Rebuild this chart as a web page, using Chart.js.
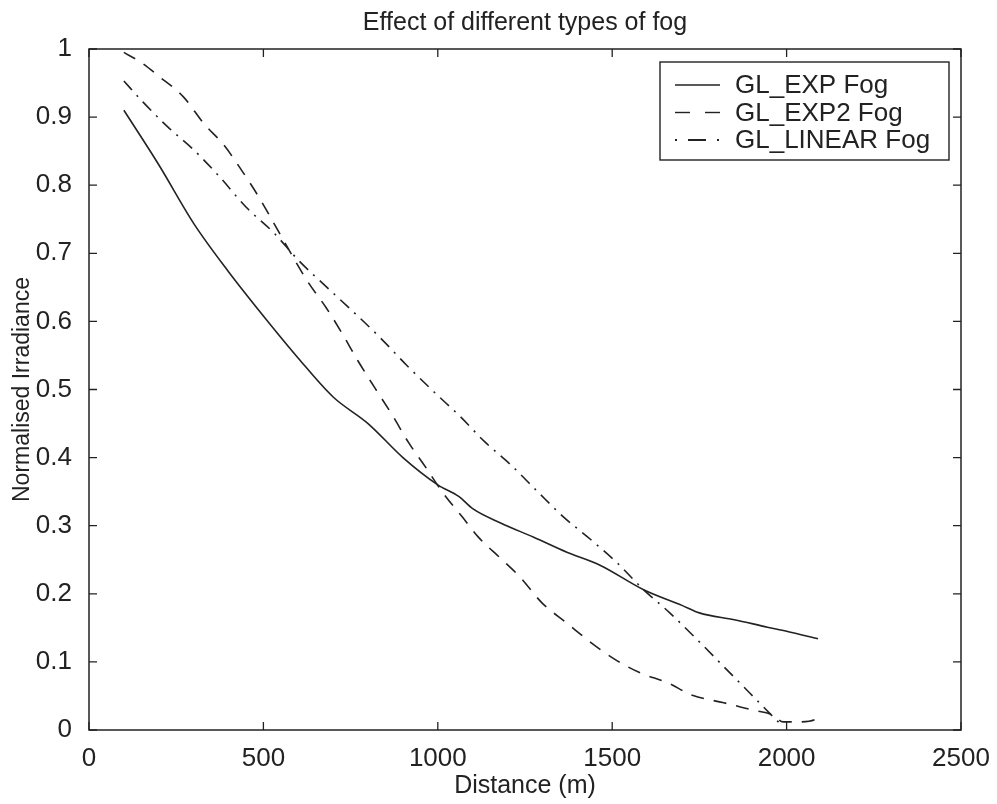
<!DOCTYPE html>
<html>
<head>
<meta charset="utf-8">
<script src="https://cdn.jsdelivr.net/npm/chart.js@4.4.1/dist/chart.umd.min.js"></script>
<style>
  html, body { margin: 0; padding: 0; background: #fff; }
  canvas { display: block; }
</style>
</head>
<body>
<canvas id="fogChart" width="997" height="804"></canvas>
<script>
// values
const expX = [100, 200, 300, 400, 500, 600, 700, 800, 900, 1000, 1060, 1100, 1180, 1275, 1370, 1465, 1590, 1700, 1750, 1850, 1945, 2000, 2090];
const expY = [0.91, 0.83, 0.744, 0.673, 0.608, 0.546, 0.489, 0.45, 0.40, 0.36, 0.343, 0.325, 0.304, 0.283, 0.261, 0.242, 0.206, 0.183, 0.172, 0.162, 0.151, 0.145, 0.134];

const exp2X = [100, 150, 200, 270, 330, 385, 440, 490, 540, 625, 680, 725, 770, 820, 870, 915, 965, 1015, 1070, 1115, 1180, 1235, 1300, 1370, 1440, 1510, 1580, 1660, 1730, 1820, 1905, 1960, 1990, 2040, 2080, 2090];
const exp2Y = [0.995, 0.98, 0.96, 0.93, 0.89, 0.86, 0.82, 0.78, 0.735, 0.66, 0.62, 0.583, 0.543, 0.502, 0.462, 0.423, 0.386, 0.348, 0.313, 0.284, 0.252, 0.225, 0.186, 0.157, 0.128, 0.103, 0.084, 0.069, 0.051, 0.040, 0.029, 0.022, 0.012, 0.012, 0.015, 0.02];

const linX = [100, 155, 225, 300, 375, 450, 530, 600, 680, 760, 835, 910, 990, 1065, 1135, 1210, 1290, 1360, 1440, 1515, 1590, 1665, 1745, 1820, 1895, 1970, 1990];
const linY = [0.953, 0.922, 0.886, 0.852, 0.812, 0.768, 0.73, 0.69, 0.651, 0.613, 0.576, 0.536, 0.496, 0.46, 0.423, 0.389, 0.348, 0.313, 0.279, 0.245, 0.206, 0.172, 0.132, 0.093, 0.054, 0.015, 0.005];

const seriesNames = ['GL_EXP Fog', 'GL_EXP2 Fog', 'GL_LINEAR Fog'];
const xTicks = [0, 500, 1000, 1500, 2000, 2500];
const yTicks = [0, 0.1, 0.2, 0.3, 0.4, 0.5, 0.6, 0.7, 0.8, 0.9, 1];
const chartTitle = 'Effect of different types of fog';

const ink = '#222';
const fontFam = '"Liberation Sans", Arial, Helvetica, sans-serif';
const dashes = [[], [13, 10], [12, 7, 2, 7]];

function toPoints(xs, ys) {
    return xs.map((x, i) => ({ x: x, y: ys[i] }));
}

// box, inward ticks on all sides, title centred over the plot
const frame = {
    id: 'frame',
    afterDraw(chart) {
        const ctx = chart.ctx;
        const a = chart.chartArea;
        const xs = chart.scales.x, ys = chart.scales.y;
        ctx.save();
        ctx.strokeStyle = ink;
        ctx.lineWidth = 1.5;
        ctx.strokeRect(a.left, a.top, a.right - a.left, a.bottom - a.top);
        ctx.lineWidth = 1.3;
        ctx.beginPath();
        xTicks.forEach(v => {
            const p = xs.getPixelForValue(v);
            ctx.moveTo(p, a.bottom); ctx.lineTo(p, a.bottom - 8);
            ctx.moveTo(p, a.top); ctx.lineTo(p, a.top + 8);
        });
        yTicks.forEach(v => {
            const p = ys.getPixelForValue(v);
            ctx.moveTo(a.left, p); ctx.lineTo(a.left + 8, p);
            ctx.moveTo(a.right, p); ctx.lineTo(a.right - 8, p);
        });
        ctx.stroke();

        ctx.fillStyle = ink;
        ctx.font = '25px ' + fontFam;
        ctx.textAlign = 'center';
        ctx.textBaseline = 'alphabetic';
        ctx.fillText(chartTitle, (a.left + a.right) / 2, a.top - 19);
        ctx.restore();
    }
};

// legend box in upper right corner
const boxLegend = {
    id: 'boxLegend',
    afterDraw(chart) {
        const ctx = chart.ctx;
        const a = chart.chartArea;
        const w = 289, h = 98;
        const bx = a.right - 12 - w, by = a.top + 13;
        ctx.save();
        ctx.fillStyle = '#fff';
        ctx.fillRect(bx, by, w, h);
        ctx.strokeStyle = ink;
        ctx.lineWidth = 1.4;
        ctx.strokeRect(bx, by, w, h);
        ctx.font = '26px ' + fontFam;
        ctx.textBaseline = 'middle';
        ctx.fillStyle = ink;
        seriesNames.forEach((name, i) => {
            const ry = by + 23 + i * 27.5;
            ctx.lineWidth = i === 2 ? 1.8 : 1.4;
            ctx.setLineDash(i === 2 ? [2, 11, 18, 11, 2, 40] : (i === 1 ? [15, 15] : []));
            ctx.beginPath();
            ctx.moveTo(bx + 15, ry);
            ctx.lineTo(bx + 60, ry);
            ctx.stroke();
            ctx.setLineDash([]);
            ctx.fillText(name, bx + 75, ry + 1);
        });
        ctx.restore();
    }
};

const datasets = [toPoints(expX, expY), toPoints(exp2X, exp2Y), toPoints(linX, linY)].map((pts, i) => ({
    label: seriesNames[i],
    data: pts,
    borderColor: ink,
    borderWidth: 1.6,
    borderDash: dashes[i],
    pointRadius: 0,
    cubicInterpolationMode: 'monotone',
    fill: false
}));

new Chart(document.getElementById('fogChart'), {
    type: 'line',
    data: { datasets: datasets },
    options: {
        responsive: false,
        animation: false,
        layout: { padding: { left: 0, right: 36, top: 49, bottom: 0 } },
        plugins: {
            legend: { display: false },
            tooltip: { enabled: false },
            title: { display: false }
        },
        scales: {
            x: {
                type: 'linear',
                min: 0,
                max: 2500,
                afterBuildTicks: s => { s.ticks = xTicks.map(v => ({ value: v })); },
                afterFit: s => { s.height = 74; },
                grid: { display: false },
                border: { display: false },
                ticks: {
                    color: ink,
                    padding: 5,
                    maxRotation: 0,
                    font: { family: fontFam, size: 26 },
                    callback: v => String(v)
                },
                title: {
                    display: true,
                    text: 'Distance (m)',
                    color: ink,
                    font: { family: fontFam, size: 25 },
                    padding: { top: 0, bottom: 3 }
                }
            },
            y: {
                type: 'linear',
                min: 0,
                max: 1,
                afterBuildTicks: s => { s.ticks = yTicks.map(v => ({ value: v })); },
                afterFit: s => { s.width = 89; },
                grid: { display: false },
                border: { display: false },
                ticks: {
                    color: ink,
                    padding: 9,
                    font: { family: fontFam, size: 26 },
                    callback: v => String(Math.round(v * 10) / 10)
                },
                title: {
                    display: true,
                    text: 'Normalised Irradiance',
                    color: ink,
                    font: { family: fontFam, size: 23 },
                    padding: { top: 9, bottom: 0 }
                }
            }
        }
    },
    plugins: [frame, boxLegend]
});
</script>
</body>
</html>
